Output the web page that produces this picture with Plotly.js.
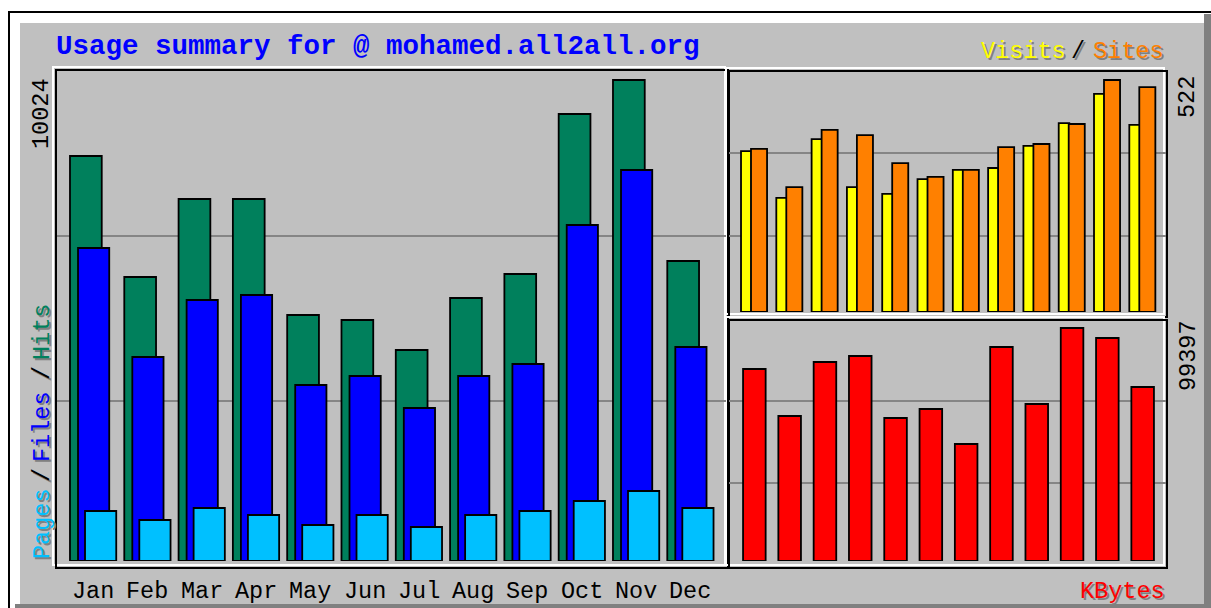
<!DOCTYPE html>
<html>
<head>
<meta charset="utf-8">
<script src="https://cdn.plot.ly/plotly-3.0.1.min.js"></script>
<style>html,body{margin:0;padding:0;background:#fff;}#chart{width:1211px;height:608px;}</style>
</head>
<body>
<div id="chart"></div>
<script>
// ---- data ----
const months = ['Jan','Feb','Mar','Apr','May','Jun','Jul','Aug','Sep','Oct','Nov','Dec'];
const hits   = [8440, 5919, 7544, 7544, 5127, 5022, 4397, 5481, 5981, 9315, 10024, 6252];
const files  = [6523, 4251, 5439, 5543, 3668, 3855, 3188, 3855, 4105, 7002, 8148, 4460];
const pages  = [1042, 854, 1104, 959, 750, 959, 709, 959, 1042, 1250, 1459, 1104];
const visits = [362, 257, 389, 281, 266, 299, 320, 324, 374, 425, 491, 421];
const sites  = [367, 281, 410, 398, 335, 304, 320, 371, 378, 423, 522, 506];
const kbytes = [81907, 61857, 84893, 87453, 61004, 64843, 49912, 91292, 66976, 99397, 95132, 74228];
const siteName = 'mohamed.all2all.org';

const W = 1211, H = 608;
const px = x => x / W;
const py = y => 1 - y / H;
const idx = months.map((m, i) => i);

const C = {
  bg: '#C0C0C0', dark: '#808080', hits: '#00805C', files: '#0000FF', pages: '#00C0FF',
  visits: '#FFFF00', sites: '#FF8000', kbytes: '#FF0000', title: '#0000FF'
};
const line = {color: '#000000', width: 1.8};

function bar(y, xa, ya, color, offset, width) {
  return {type: 'bar', x: idx, y: y, xaxis: xa, yaxis: ya, offset: offset, width: width,
          marker: {color: color, line: line}, hoverinfo: 'skip'};
}

const traces = [
  bar(hits,  'x',  'y',  C.hits,  -0.424, 0.585),
  bar(files, 'x',  'y',  C.files, -0.276, 0.575),
  bar(pages, 'x',  'y',  C.pages, -0.147, 0.575),
  bar(visits,'x2', 'y2', C.visits,-0.368, 0.30),
  bar(sites, 'x2', 'y2', C.sites, -0.085, 0.455),
  bar(kbytes,'x3', 'y3', C.kbytes,-0.31, 0.64)
];

function rect(x0, y0, x1, y1, fill, lineColor, lw) {
  return {type: 'rect', xref: 'paper', yref: 'paper', layer: 'below',
          x0: px(x0), x1: px(x1), y0: py(y0), y1: py(y1),
          fillcolor: fill || 'rgba(0,0,0,0)',
          line: {color: lineColor || 'rgba(0,0,0,0)', width: lw || 0}};
}

const shapes = [
  rect(8, 11, 1211, 608, '#000000'),
  rect(10, 13, 1211, 608, '#FFFFFF'),
  rect(20, 23, 1204, 604, C.bg),
  rect(1204, 14, 1211, 608, C.dark),
  rect(15, 604, 1211, 608, C.dark),
  // main panel frame
  rect(53, 67, 725, 565, null, '#FFFFFF', 2),
  rect(56, 70, 728, 568, null, '#000000', 2),
  // top-right panel frame
  rect(726, 68, 1164, 314, null, '#FFFFFF', 2),
  rect(729, 71, 1167, 317, null, '#000000', 2),
  // bottom-right panel frame
  rect(726, 317, 1164, 565, null, '#FFFFFF', 2),
  rect(729, 320, 1167, 568, null, '#000000', 2)
];

const MONO = '"Liberation Mono", "DejaVu Sans Mono", monospace';
const annotations = [];
function txt(text, x, y, color, size, opts) {
  opts = opts || {};
  const base = {xref: opts.xref || 'paper', yref: 'paper', x: opts.xref ? x : px(x), y: py(y),
    text: text, showarrow: false, xanchor: opts.xanchor || 'center', yanchor: 'middle',
    textangle: opts.angle || 0, borderpad: 0,
    font: {family: MONO, size: size, color: color, weight: opts.bold ? 'bold' : 'normal'}};
  if (opts.shadow) {
    annotations.push(Object.assign({}, base, {xshift: 2, yshift: -2,
      font: Object.assign({}, base.font, {color: C.dark})}));
  }
  annotations.push(base);
}

// title
txt('Usage summary for @ ' + siteName, 55, 47, C.title, 27.5, {xanchor: 'left', bold: true});
// Visits / Sites legend
txt('Visits', 980, 52, C.visits, 23.5, {xanchor: 'left', shadow: true});
txt('/', 1078, 52, '#000000', 23.5, {shadow: true});
txt('Sites', 1092, 52, C.sites, 23.5, {xanchor: 'left', shadow: true});
// KBytes
txt('KBytes', 1079, 591, C.kbytes, 23.5, {xanchor: 'left', shadow: true});
// Pages / Files / Hits (vertical)
txt('Hits', 42, 332, C.hits, 23.5, {angle: -90, shadow: true});
txt('/', 42, 373, '#000000', 23.5, {angle: -90, shadow: true});
txt('Files', 42, 426, C.files, 23.5, {angle: -90, shadow: true});
txt('/', 42, 475, '#000000', 23.5, {angle: -90, shadow: true});
txt('Pages', 42, 523, C.pages, 23.5, {angle: -90, shadow: true});
// max value labels
txt(String(Math.max(...hits)), 42, 113, '#000000', 23.5, {angle: -90});
txt(String(Math.max(...sites)), 1188, 97, '#000000', 23.5, {angle: -90});
txt(String(Math.max(...kbytes)), 1188, 356, '#000000', 23.5, {angle: -90});
// month labels
months.forEach((m, i) => txt(m, i, 591, '#000000', 23.5, {xref: 'x'}));

function xax(d0, d1, r0, r1, anchor) {
  return {domain: [px(d0), px(d1)], range: [r0, r1], anchor: anchor, showgrid: false,
          zeroline: false, showticklabels: false, ticks: '', showline: false, fixedrange: true};
}
function yax(base, top, scale, grids, anchor) {
  return {domain: [py(base), py(top)], range: [0, (base - top) * scale], anchor: anchor,
          tickvals: grids.map(g => (base - g) * scale), showgrid: true, gridcolor: '#858585',
          gridwidth: 1.6, zeroline: false, showticklabels: false, ticks: '', showline: false,
          fixedrange: true};
}

const layout = {
  width: W, height: H, autosize: false,
  margin: {l: 0, r: 0, t: 0, b: 0, pad: 0},
  paper_bgcolor: '#FFFFFF', plot_bgcolor: 'rgba(0,0,0,0)',
  showlegend: false, barmode: 'overlay',
  xaxis:  xax(57, 726, (57 - 93) / 54.3, (726 - 93) / 54.3, 'y'),
  yaxis:  yax(561, 70, 10024 / 481, [236, 401], 'x'),
  xaxis2: xax(729, 1166, (729 - 754) / 35.3, (1166 - 754) / 35.3, 'y2'),
  yaxis2: yax(312, 71, 522 / 232, [153, 236], 'x2'),
  xaxis3: xax(729, 1166, (729 - 754) / 35.3, (1166 - 754) / 35.3, 'y3'),
  yaxis3: yax(561, 320, 99397 / 233, [401, 483], 'x3'),
  shapes: shapes,
  annotations: annotations
};

Plotly.newPlot('chart', traces, layout, {staticPlot: true, displayModeBar: false});
</script>
</body>
</html>
